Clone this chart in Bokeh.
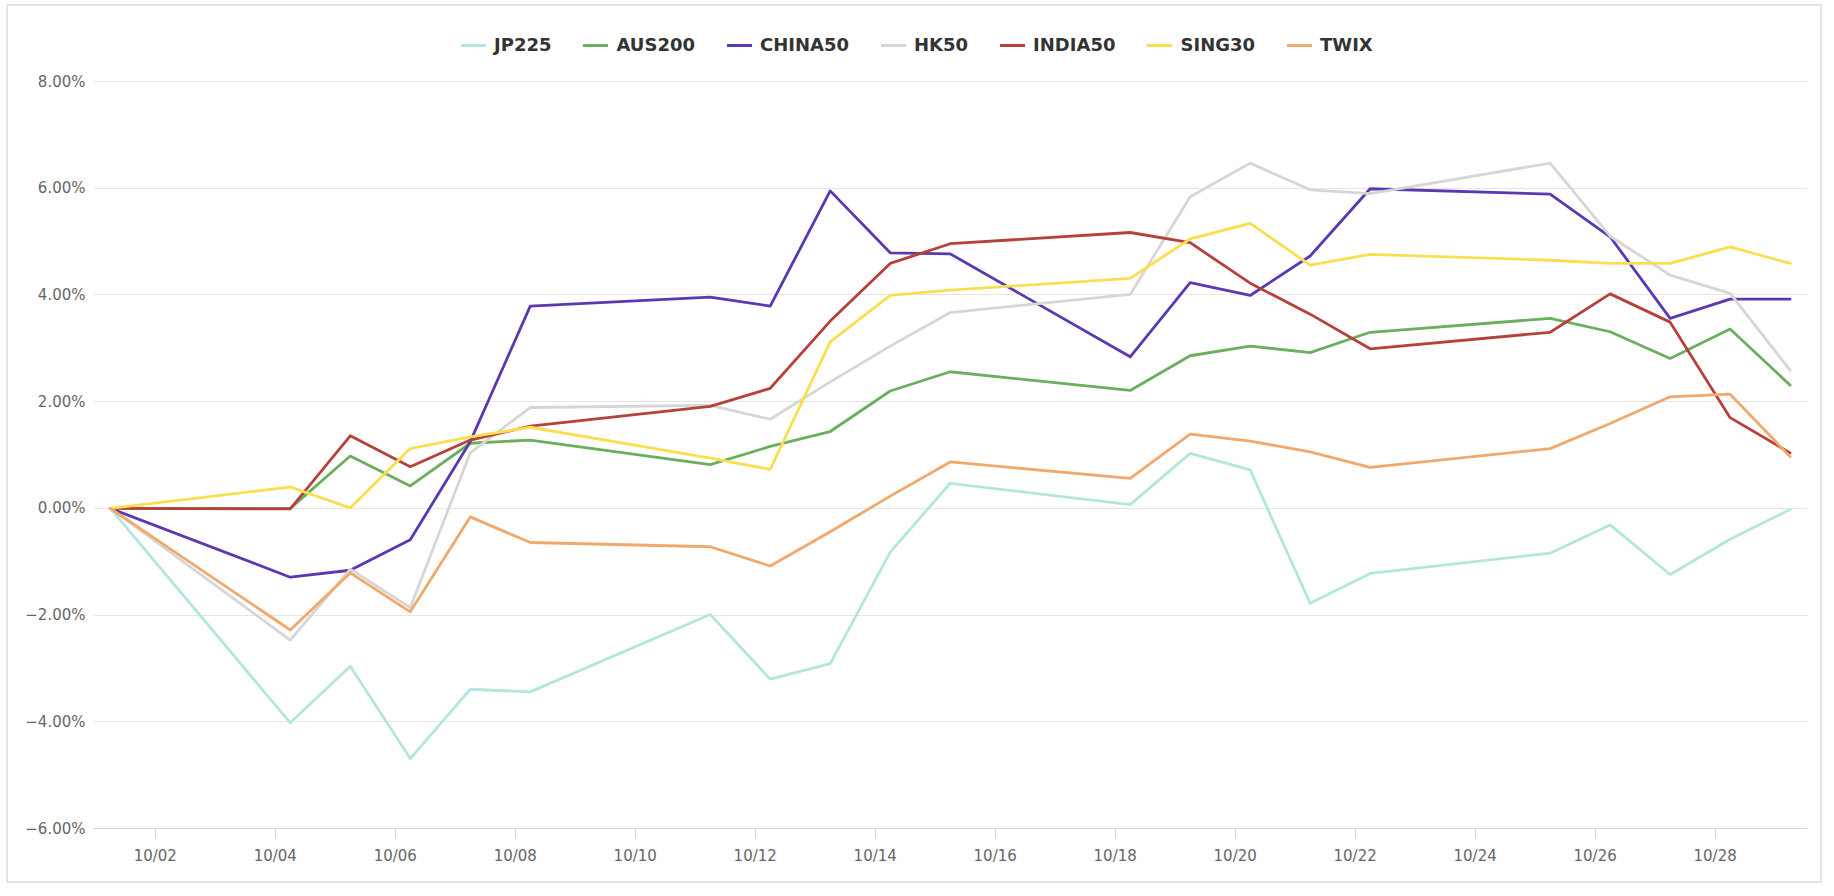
from bokeh.plotting import figure
from bokeh.models import ColumnDataSource, Legend, LegendItem, FixedTicker, Range1d
from bokeh.embed import file_html
from bokeh.resources import INLINE

# ---- data -------------------------------------------------------------
dates = ["10/01", "10/04", "10/05", "10/06", "10/07", "10/08", "10/11", "10/12",
         "10/13", "10/14", "10/15", "10/18", "10/19", "10/20", "10/21", "10/22",
         "10/25", "10/26", "10/27", "10/28", "10/29"]

jp225 = [0.00, -4.02, -2.96, -4.69, -3.39, -3.44, -1.99, -3.20, -2.91, -0.82, 0.47,
         0.07, 1.03, 0.72, -1.78, -1.22, -0.84, -0.31, -1.24, -0.58, -0.02]
aus200 = [0.00, 0.00, 0.98, 0.42, 1.22, 1.28, 0.82, 1.16, 1.44, 2.20, 2.56,
          2.21, 2.86, 3.04, 2.92, 3.30, 3.56, 3.31, 2.81, 3.36, 2.31]
china50 = [0.00, -1.29, -1.16, -0.59, 1.25, 3.79, 3.96, 3.79, 5.95, 4.79, 4.77,
           2.84, 4.23, 3.99, 4.73, 5.99, 5.89, 5.09, 3.56, 3.92, 3.92]
hk50 = [0.00, -2.47, -1.14, -1.86, 1.04, 1.89, 1.93, 1.67, 2.37, 3.04, 3.67,
        4.01, 5.84, 6.47, 5.97, 5.90, 6.47, 5.10, 4.37, 4.03, 2.59]
india50 = [0.00, -0.01, 1.36, 0.78, 1.28, 1.54, 1.91, 2.25, 3.51, 4.59, 4.96,
           5.17, 4.98, 4.22, 3.64, 2.99, 3.30, 4.02, 3.49, 1.70, 1.04]
sing30 = [0.00, 0.40, 0.01, 1.12, 1.34, 1.52, 0.94, 0.73, 3.12, 3.99, 4.09,
          4.31, 5.05, 5.34, 4.56, 4.76, 4.65, 4.59, 4.59, 4.90, 4.59]
twix = [0.00, -2.28, -1.21, -1.94, -0.16, -0.64, -0.72, -1.08, -0.44, 0.23, 0.87,
        0.56, 1.39, 1.26, 1.06, 0.77, 1.12, 1.59, 2.09, 2.14, 0.97]

series_names = ["JP225", "AUS200", "CHINA50", "HK50", "INDIA50", "SING30", "TWIX"]
series_values = [jp225, aus200, china50, hk50, india50, sing30, twix]
series_colors = ["#b2e6de", "#6aaf5e", "#5b37b2", "#d6d6d6", "#b6413b", "#f9df50", "#f3a86b"]

x_tick_labels = ["10/02", "10/04", "10/06", "10/08", "10/10", "10/12", "10/14",
                 "10/16", "10/18", "10/20", "10/22", "10/24", "10/26", "10/28"]
y_tick_values = [-6, -4, -2, 0, 2, 4, 6, 8]
y_tick_labels = ["\u22126.00%", "\u22124.00%", "\u22122.00%", "0.00%",
                 "2.00%", "4.00%", "6.00%", "8.00%"]

SAMPLE_HOUR = 6  # timestamps of the samples fall at 06:00 of each day


def day_pos(label, hour=0):
    return int(label.split("/")[1]) - 1 + hour / 24.0


xs = [day_pos(d, SAMPLE_HOUR) for d in dates]

# ---- figure -----------------------------------------------------------
W, H = 1816, 879
BL, BR, BT, BB = 85, 17, 5, 57
Y_MIN, Y_MAX = -6, 8
PLOT_H = 747            # pixel height of the -6% .. 8% band
frame_h = H - BT - BB
y_top = Y_MIN + (Y_MAX - Y_MIN) * frame_h / PLOT_H   # room above 8% for the legend

p = figure(width=W, height=H, output_backend="svg", toolbar_location=None,
           x_range=Range1d(-0.03, 28.54), y_range=Range1d(Y_MIN, y_top),
           min_border_left=BL, min_border_right=BR, min_border_top=BT,
           min_border_bottom=BB)
p.styles = {"margin": "4px 0 0 6px", "border": "2px solid #dfe5e9"}
p.outline_line_color = None
p.background_fill_color = "white"
p.border_fill_color = "white"

items = []
for name, vals, col in zip(series_names, series_values, series_colors):
    src = ColumnDataSource(dict(x=xs, y=vals))
    r = p.line("x", "y", source=src, line_color=col, line_width=2.8,
               line_join="round", line_cap="round")
    items.append(LegendItem(label=name, renderers=[r]))

# axes
p.xaxis.ticker = FixedTicker(ticks=[day_pos(t) for t in x_tick_labels])
p.xaxis.major_label_overrides = {day_pos(t): t for t in x_tick_labels}
p.xaxis.axis_line_color = "#ccd6eb"
p.xaxis.axis_line_width = 1
p.xaxis.major_tick_line_color = "#ccd6eb"
p.xaxis.major_tick_out = 10
p.xaxis.major_tick_in = 0
p.xaxis.minor_tick_line_color = None
p.xaxis.major_label_standoff = 8
p.xaxis.major_label_text_font = "DejaVu Sans"
p.xaxis.major_label_text_font_size = "15px"
p.xaxis.major_label_text_color = "#666666"

p.yaxis.ticker = FixedTicker(ticks=y_tick_values)
p.yaxis.major_label_overrides = {v: t for v, t in zip(y_tick_values, y_tick_labels)}
p.yaxis.axis_line_color = None
p.yaxis.major_tick_line_color = None
p.yaxis.minor_tick_line_color = None
p.yaxis.major_tick_out = 0
p.yaxis.major_label_standoff = 8
p.yaxis.major_label_text_font = "DejaVu Sans"
p.yaxis.major_label_text_font_size = "15px"
p.yaxis.major_label_text_color = "#666666"

p.xgrid.grid_line_color = None
p.ygrid.grid_line_color = "#e6e6e6"
p.ygrid.grid_line_width = 1

legend = Legend(items=items, orientation="horizontal",
                location=(368, PLOT_H + 26),
                glyph_width=25, glyph_height=20, label_standoff=8, spacing=32,
                padding=0, margin=0,
                border_line_alpha=0, background_fill_alpha=0,
                label_text_font="DejaVu Sans", label_text_font_style="bold",
                label_text_font_size="18px", label_text_color="#333333")
p.add_layout(legend, "center")

open("out.html", "w").write(file_html(p, INLINE))
